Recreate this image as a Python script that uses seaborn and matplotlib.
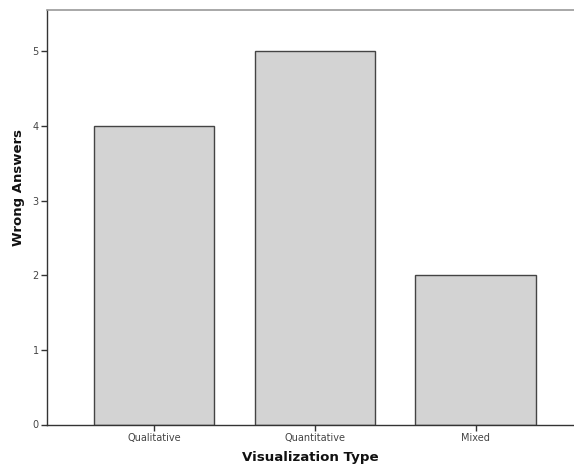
import matplotlib
matplotlib.use("Agg")
import matplotlib.pyplot as plt
import seaborn as sns
import pandas as pd

categories = ["Qualitative", "Quantitative", "Mixed"]
wrong_answers = [4, 5, 2]
y_ticks = [0, 1, 2, 3, 4, 5]

sns.set_theme(style="white")
plt.rcParams["font.family"] = ["DejaVu Sans"]

df = pd.DataFrame({"Visualization Type": categories, "Wrong Answers": wrong_answers})

fig = plt.figure(figsize=(5.74, 4.68), dpi=100)
ax = fig.add_axes([47 / 574, 43.5 / 468, 1 - 47 / 574, (424.5 - 9.5) / 468])

sns.barplot(data=df, x="Visualization Type", y="Wrong Answers", order=categories,
            color="#d3d3d3", width=0.75, edgecolor="#444444", linewidth=1.0,
            saturation=1, ax=ax)

ax.set_ylim(0, 5.56)
ax.set_xlim(-0.665, 2.61)
ax.set_yticks(y_ticks)
ax.set_yticklabels([str(v) for v in y_ticks])

for side in ["left", "bottom"]:
    ax.spines[side].set_color("#333333")
    ax.spines[side].set_linewidth(1.0)
ax.spines["top"].set_color("#999999")
ax.spines["top"].set_linewidth(1.2)
ax.spines["right"].set_visible(False)

ax.tick_params(axis="both", which="major", direction="out", length=4, width=1,
               color="#333333", labelsize=7, labelcolor="#444444", pad=2,
               left=True, bottom=True)

ax.set_xlabel("Visualization Type", fontsize=9.6, fontweight="bold", color="#111111", labelpad=6)
ax.set_ylabel("Wrong Answers", fontsize=9.5, fontweight="bold", color="#111111")
ax.yaxis.set_label_coords(-0.042, 0.572)

fig.savefig("out.png", dpi=100)
